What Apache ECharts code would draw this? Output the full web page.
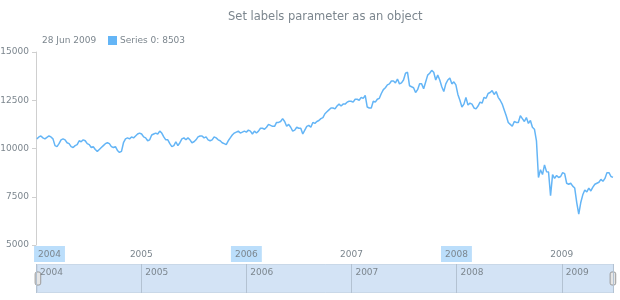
<!DOCTYPE html>
<html>
<head>
<meta charset="utf-8">
<script src="https://cdn.jsdelivr.net/npm/echarts@6/dist/echarts.min.js"></script>
<style>
  html, body { margin: 0; padding: 0; background: #fff; }
  #main { width: 620px; height: 300px; }
</style>
</head>
<body>
<div id="main"></div>
<script>
  // weekly closes, one week per value, first week starts on Sunday 4 Jan 2004
  var firstWeek = [2004, 0, 4];
  var v2004 = [10500, 10600, 10650, 10550, 10500, 10580, 10650, 10600, 10500, 10150, 10100, 10250,
    10450, 10500, 10450, 10300, 10250, 10100, 10050, 10150, 10200, 10400, 10350, 10450, 10400,
    10250, 10200, 10050, 10100, 9950, 9850, 9950, 10050, 10150, 10250, 10300, 10250, 10100,
    10050, 10100, 9900, 9800, 9850, 10300, 10500, 10550, 10500, 10600, 10550, 10650, 10750, 10800];
  var v2005 = [10750, 10600, 10550, 10400, 10450, 10700, 10750, 10800, 10750, 10900, 10800, 10600, 10450,
    10450, 10250, 10100, 10150, 10350, 10150, 10300, 10500, 10550, 10450, 10550, 10450, 10300,
    10350, 10450, 10600, 10650, 10650, 10550, 10600, 10450, 10400, 10450, 10600, 10550, 10450,
    10400, 10300, 10250, 10200, 10400, 10550, 10700, 10800, 10850, 10900, 10800, 10850, 10900];
  var v2006 = [10850, 10950, 10900, 10750, 10900, 10800, 10900, 11050, 11050, 11000, 11100, 11250, 11200,
    11150, 11150, 11350, 11350, 11400, 11550, 11400, 11150, 11250, 11100, 10900, 10950, 11100,
    11050, 11050, 10750, 10950, 11150, 11200, 11100, 11350, 11300, 11400, 11450, 11550, 11600,
    11800, 11900, 12000, 12100, 12100, 12050, 12200, 12300, 12200, 12300, 12300, 12400, 12450, 12450];
  var v2007 = [12400, 12550, 12550, 12500, 12650, 12600, 12750, 12150, 12100, 12100, 12450, 12400,
    12550, 12600, 12850, 13050, 13150, 13300, 13350, 13500, 13500, 13400, 13600, 13350, 13400,
    13550, 13900, 13950, 13250, 13200, 13150, 12900, 13050, 13350, 13350, 13100, 13450, 13800, 13900,
    14050, 13950, 13550, 13800, 13550, 13200, 12950, 13350, 13550, 13650, 13350, 13450, 13300];
  var v2008 = [12800, 12500, 12150, 12300, 12650, 12250, 12350, 12300, 12100, 12050, 12200, 12400, 12350,
    12650, 12600, 12850, 12900, 13000, 12800, 12950, 12650, 12500, 12300, 12000, 11700, 11350,
    11250, 11150, 11400, 11350, 11350, 11700, 11550, 11400, 11600, 11300, 11450, 11100, 11000,
    10400, 8500, 8900, 8650, 9150, 8800, 8780, 7550, 8650, 8450, 8600, 8500, 8550];
  var v2009 = [8750, 8700, 8200, 8150, 8200, 8050, 7950, 7200, 6600, 7200, 7600, 7850, 7750,
    7950, 7800, 8000, 8150, 8200, 8250, 8400, 8300, 8450, 8750, 8750, 8550, 8503];
  var monthNames = ['Jan', 'Feb', 'Mar', 'Apr', 'May', 'Jun', 'Jul', 'Aug', 'Sep', 'Oct', 'Nov', 'Dec'];
  var yTicks = { min: 5000, max: 15000, step: 2500 };
  var seriesName = 'Series 0';

  var values = [].concat(v2004, v2005, v2006, v2007, v2008, v2009);
  var data = values.map(function (v, i) {
    var d = new Date(firstWeek[0], firstWeek[1], firstWeek[2] + 7 * i);
    return [d.getTime(), v];
  });
  var last = data[data.length - 1];
  var lastDate = new Date(last[0]);
  var dateText = lastDate.getDate() + ' ' + monthNames[lastDate.getMonth()] + ' ' + lastDate.getFullYear();
  var axisMin = new Date(2004, 0, 1).getTime();
  var axisMax = last[0];
  var firstYear = new Date(axisMin).getFullYear();

  var gray = '#7c868e';
  var chart = echarts.init(document.getElementById('main'));
  chart.setOption({
    animation: false,
    textStyle: { fontFamily: 'DejaVu Sans' },
    title: {
      text: 'Set labels parameter as an object',
      left: 228,
      top: 11,
      padding: 0,
      textStyle: { color: gray, fontSize: 11.5, fontWeight: 'normal' }
    },
    legend: {
      left: 103,
      top: 31,
      icon: 'rect',
      itemWidth: 9,
      itemHeight: 9,
      textStyle: { color: gray, fontSize: 9, padding: [0, 0, 0, -2] },
      formatter: function (name) { return name + ': ' + last[1]; },
      data: [seriesName]
    },
    graphic: [{
      type: 'text',
      left: 42,
      top: 36,
      style: { text: dateText, fill: gray, font: '9px "DejaVu Sans"' }
    }],
    grid: [
      { left: 36, right: 7, top: 52, bottom: 55, outerBoundsMode: 'none', containLabel: false },
      { left: 36, right: 7, top: 264, height: 29, outerBoundsMode: 'none', containLabel: false }
    ],
    xAxis: [{
      type: 'time',
      min: axisMin,
      max: axisMax,
      splitNumber: 5,
      axisLine: { show: false },
      axisTick: { show: false },
      splitLine: { show: false },
      axisLabel: {
        margin: 1,
        showMaxLabel: false,
        formatter: function (val) {
          var y = new Date(val).getFullYear();
          var txt = y % 2 === 0 ? '{hl|' + y + '}' : '{n|' + y + '}';
          // first label starts at the axis instead of being centred on it
          return y === firstYear ? '{sp| }' + txt : txt;
        },
        rich: {
          sp: { width: 27, fontSize: 9 },
          hl: { color: gray, fontSize: 9, backgroundColor: '#bbdefb', padding: [4, 4, 3, 4] },
          n: { color: gray, fontSize: 9, padding: [4, 4, 3, 4] }
        }
      }
    }, {
      type: 'time',
      gridIndex: 1,
      position: 'top',
      min: axisMin,
      max: axisMax,
      splitNumber: 5,
      z: 10,
      axisLine: { show: false },
      axisTick: { show: false },
      splitLine: { show: true, lineStyle: { color: '#b3c2d2', width: 1 } },
      axisLabel: {
        inside: true,
        align: 'left',
        margin: 4,
        padding: [0, 0, 0, 4],
        showMaxLabel: false,
        color: gray,
        fontSize: 9,
        formatter: function (val) { return String(new Date(val).getFullYear()); }
      }
    }],
    yAxis: [{
      type: 'value',
      min: yTicks.min,
      max: yTicks.max,
      interval: yTicks.step,
      axisLine: { show: true, lineStyle: { color: '#cfcfcf' } },
      axisTick: { show: true, length: 4, lineStyle: { color: '#cfcfcf' } },
      splitLine: { show: false },
      axisLabel: {
        color: gray, fontSize: 9, margin: 7,
        formatter: function (v) { return String(v); }
      }
    }, {
      type: 'value',
      gridIndex: 1,
      show: false
    }],
    dataZoom: [{
      type: 'slider',
      xAxisIndex: 0,
      filterMode: 'none',
      start: 0,
      end: 100,
      left: 36,
      right: 7,
      top: 264,
      height: 29,
      z: 2,
      showDetail: false,
      showDataShadow: false,
      brushSelect: false,
      moveHandleSize: 0,
      backgroundColor: '#f5f8fb',
      fillerColor: '#d3e3f5',
      borderColor: '#c9d8e8',
      handleIcon: 'path://M2,0 h2 a2,2 0 0 1 2,2 v10 a2,2 0 0 1 -2,2 h-2 a2,2 0 0 1 -2,-2 v-10 a2,2 0 0 1 2,-2 z',
      handleSize: '45%',
      handleStyle: { color: '#e6e6e6', borderColor: '#9a9a9a', borderWidth: 1 },
      emphasis: { handleStyle: { color: '#e6e6e6', borderColor: '#9a9a9a' } },
      dataBackground: { lineStyle: { opacity: 0 }, areaStyle: { opacity: 0 } },
      selectedDataBackground: { lineStyle: { opacity: 0 }, areaStyle: { opacity: 0 } }
    }],
    series: [{
      name: seriesName,
      type: 'line',
      data: data,
      showSymbol: false,
      color: '#64b5f6',
      lineStyle: { width: 1.5, color: '#64b5f6' }
    }]
  });
</script>
</body>
</html>
